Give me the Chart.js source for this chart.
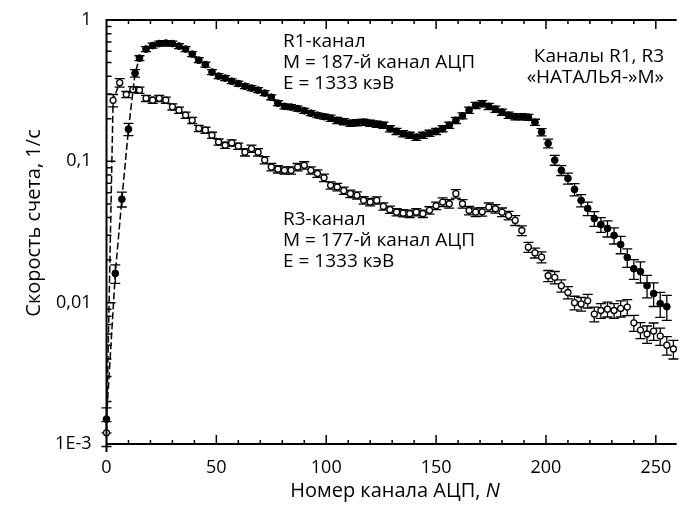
<!DOCTYPE html>
<html>
<head>
<meta charset="utf-8">
<script src="https://cdn.jsdelivr.net/npm/chart.js@4/dist/chart.umd.min.js"></script>
<style>
  body { margin: 0; background: #fff; }
  canvas { display: block; }
</style>
</head>
<body>
<canvas id="spectrum" width="682" height="507"></canvas>
<script>
// R1 channel (filled circles)
const r1Channels = [0, 4, 7, 10, 13, 15, 18, 21, 24, 27, 30, 33, 36, 39, 42, 45, 48, 51, 54, 57,
    60, 63, 66, 69, 72, 75, 78, 81, 84, 87, 90, 93, 96, 99, 102, 105, 108, 111, 114, 117,
    120, 123, 126, 129, 132, 135, 138, 141, 144, 147, 150, 153, 156, 159, 162, 165, 168, 171, 174, 177,
    180, 183, 186, 189, 192, 195, 198, 201, 204, 207, 210, 213, 216, 219, 222, 225, 228, 231, 234, 237,
    240, 243, 246, 249, 252, 255];
const r1Rate = [0.0015, 0.0161, 0.054, 0.169, 0.42, 0.537, 0.623, 0.659, 0.681, 0.687, 0.681, 0.654, 0.623, 0.574, 0.52, 0.483, 0.428, 0.401, 0.388, 0.369,
    0.355, 0.34, 0.33, 0.319, 0.304, 0.284, 0.258, 0.245, 0.242, 0.236, 0.228, 0.219, 0.212, 0.207, 0.202, 0.195, 0.191, 0.186, 0.188, 0.189,
    0.186, 0.183, 0.18, 0.17, 0.163, 0.157, 0.153, 0.148, 0.153, 0.158, 0.163, 0.17, 0.18, 0.195, 0.21, 0.23, 0.249, 0.256, 0.245, 0.234,
    0.223, 0.212, 0.207, 0.207, 0.205, 0.189, 0.161, 0.134, 0.102, 0.0863, 0.0757, 0.0633, 0.0529, 0.0464, 0.0394, 0.0357, 0.0335, 0.0299, 0.0258, 0.0209,
    0.0174, 0.0166, 0.0132, 0.0116, 0.00984, 0.00937];
// relative errors
const r1Err = [0.2, 0.15, 0.12, 0.1, 0.06, 0.04, 0.04, 0.04, 0.04, 0.04, 0.04, 0.04, 0.04, 0.04, 0.04, 0.04, 0.04, 0.04, 0.04, 0.04,
    0.04, 0.04, 0.04, 0.04, 0.04, 0.04, 0.04, 0.04, 0.04, 0.04, 0.04, 0.04, 0.04, 0.04, 0.05, 0.05, 0.05, 0.05, 0.05, 0.05,
    0.05, 0.05, 0.05, 0.05, 0.05, 0.05, 0.05, 0.05, 0.05, 0.05, 0.05, 0.05, 0.05, 0.05, 0.05, 0.05, 0.05, 0.05, 0.05, 0.05,
    0.05, 0.05, 0.05, 0.05, 0.05, 0.05, 0.06, 0.07, 0.08, 0.08, 0.09, 0.1, 0.1, 0.11, 0.12, 0.12, 0.13, 0.13, 0.14, 0.15,
    0.16, 0.17, 0.18, 0.19, 0.2, 0.2];

// R3 channel (open circles)
const r3Channels = [0, 3, 6, 9, 12, 15, 18, 21, 24, 27, 30, 33, 36, 39, 42, 45, 48, 51, 54, 57,
    60, 63, 66, 69, 72, 75, 78, 81, 84, 87, 90, 93, 96, 99, 102, 105, 108, 111, 114, 117,
    120, 123, 126, 129, 132, 135, 138, 141, 144, 147, 150, 153, 156, 159, 162, 165, 168, 171, 174, 177,
    180, 183, 186, 189, 192, 195, 198, 201, 204, 207, 210, 213, 216, 219, 222, 225, 228, 231, 234, 237,
    240, 243, 246, 249, 252, 255, 258];
const r3Rate = [0.0012, 0.27, 0.36, 0.297, 0.322, 0.319, 0.279, 0.271, 0.279, 0.271, 0.243, 0.23, 0.212, 0.195, 0.171, 0.166, 0.153, 0.137, 0.13, 0.135,
    0.128, 0.116, 0.123, 0.116, 0.102, 0.0911, 0.088, 0.0863, 0.0863, 0.0911, 0.0937, 0.0863, 0.082, 0.0765, 0.0676, 0.0658, 0.062, 0.059, 0.0574, 0.053,
    0.0515, 0.0529, 0.048, 0.0455, 0.0437, 0.043, 0.0426, 0.0437, 0.0426, 0.045, 0.0485, 0.0515, 0.0501, 0.059, 0.0501, 0.0449, 0.0437, 0.044, 0.0474, 0.0462,
    0.0437, 0.0414, 0.0382, 0.0324, 0.0247, 0.0225, 0.021, 0.0155, 0.0151, 0.0132, 0.0118, 0.01, 0.0098, 0.0103, 0.0083, 0.0088, 0.009, 0.0088, 0.0091, 0.0093,
    0.0072, 0.0064, 0.006, 0.0063, 0.0058, 0.005, 0.0047];
const r3Err = [0.2, 0.1, 0.07, 0.05, 0.05, 0.05, 0.05, 0.05, 0.05, 0.05, 0.05, 0.05, 0.05, 0.05, 0.05, 0.05, 0.05, 0.05, 0.05, 0.05,
    0.05, 0.06, 0.06, 0.06, 0.06, 0.06, 0.06, 0.06, 0.06, 0.06, 0.06, 0.06, 0.06, 0.06, 0.06, 0.06, 0.06, 0.06, 0.06, 0.06,
    0.06, 0.06, 0.06, 0.06, 0.06, 0.06, 0.06, 0.06, 0.06, 0.06, 0.06, 0.07, 0.07, 0.07, 0.07, 0.07, 0.07, 0.07, 0.07, 0.07,
    0.07, 0.07, 0.08, 0.08, 0.08, 0.08, 0.09, 0.09, 0.1, 0.1, 0.1, 0.11, 0.11, 0.11, 0.12, 0.12, 0.12, 0.12, 0.13, 0.13,
    0.13, 0.13, 0.14, 0.14, 0.14, 0.15, 0.15];

const xTickValues = [0, 50, 100, 150, 200, 250];
const xTickLabels = ['0', '50', '100', '150', '200', '250'];
const yTickValues = [0.001, 0.01, 0.1, 1];
const yTickLabels = ['1E-3', '0,01', '0,1', '1'];

const FONT = '"Open Sans", "Noto Sans", sans-serif';

// vertical error bars with caps
const errorBars = {
    id: 'errorBars',
    beforeDatasetsDraw(chart) {
        const { ctx, scales: { x, y } } = chart;
        ctx.save();
        ctx.strokeStyle = '#000';
        ctx.lineWidth = 1.3;
        chart.data.datasets.forEach(ds => {
            if (!ds.errors) return;
            ds.data.forEach((p, i) => {
                const e = ds.errors[i];
                const px = x.getPixelForValue(p.x);
                const top = y.getPixelForValue(p.y * (1 + e));
                const bot = y.getPixelForValue(p.y * (1 - e));
                ctx.beginPath();
                ctx.moveTo(px, top); ctx.lineTo(px, bot);
                ctx.moveTo(px - 5, top); ctx.lineTo(px + 5, top);
                ctx.moveTo(px - 5, bot); ctx.lineTo(px + 5, bot);
                ctx.stroke();
            });
        });
        ctx.restore();
    }
};

// axes, ticks, labels and annotations
const frame = {
    id: 'frame',
    afterDraw(chart) {
        const { ctx, chartArea: a, scales: { x, y } } = chart;
        ctx.save();
        ctx.strokeStyle = '#000';
        ctx.lineWidth = 2;
        ctx.beginPath();
        ctx.moveTo(a.left, a.top - 1); ctx.lineTo(a.left, a.bottom + 8);
        ctx.moveTo(a.left - 1, a.bottom); ctx.lineTo(a.right, a.bottom);
        ctx.moveTo(a.left - 1, a.top); ctx.lineTo(a.right, a.top);
        ctx.stroke();

        ctx.lineWidth = 1.5;
        ctx.beginPath();
        for (let n = 10; n <= x.max; n += 10) {
            const px = x.getPixelForValue(n);
            const len = n % 50 === 0 ? 9 : 4;
            ctx.moveTo(px, a.bottom); ctx.lineTo(px, a.bottom - len);
            ctx.moveTo(px, a.top); ctx.lineTo(px, a.top + len);
        }
        yTickValues.forEach((d, i) => {
            const py = y.getPixelForValue(d);
            ctx.moveTo(a.left, py); ctx.lineTo(a.left + 9, py);
            if (i === yTickValues.length - 1) return;
            for (let k = 2; k <= 9; k++) {
                const pm = y.getPixelForValue(d * k);
                ctx.moveTo(a.left, pm); ctx.lineTo(a.left + 5, pm);
            }
        });
        ctx.stroke();

        ctx.fillStyle = '#000';
        ctx.font = '18px ' + FONT;
        ctx.textAlign = 'center';
        ctx.textBaseline = 'middle';
        xTickValues.forEach((v, i) => {
            ctx.fillText(xTickLabels[i], x.getPixelForValue(v), 468);
        });
        ctx.textAlign = 'right';
        yTickValues.forEach((v, i) => {
            ctx.fillText(yTickLabels[i], a.left - 15, y.getPixelForValue(v));
        });

        // x title with italic N
        ctx.font = '20px ' + FONT;
        const t1 = 'Номер канала АЦП, ';
        const w1 = ctx.measureText(t1).width;
        ctx.font = 'italic 20px ' + FONT;
        const w2 = ctx.measureText('N').width;
        const x0 = 395 - (w1 + w2) / 2;
        ctx.textAlign = 'left';
        ctx.font = '20px ' + FONT;
        ctx.fillText(t1, x0, 491);
        ctx.font = 'italic 20px ' + FONT;
        ctx.fillText('N', x0 + w1, 491);

        // y title
        ctx.save();
        ctx.translate(34, 223);
        ctx.rotate(-Math.PI / 2);
        ctx.textAlign = 'center';
        ctx.font = '20px ' + FONT;
        ctx.fillText('Скорость счета, 1/с', 0, 0);
        ctx.restore();

        // annotations
        ctx.font = '19px ' + FONT;
        ctx.textAlign = 'left';
        ['R1-канал', 'M = 187-й канал АЦП', 'E = 1333 кэВ'].forEach((s, i) => ctx.fillText(s, 283, 42 + i * 21));
        ['R3-канал', 'M = 177-й канал АЦП', 'E = 1333 кэВ'].forEach((s, i) => ctx.fillText(s, 283, 220 + i * 21));
        ctx.textAlign = 'right';
        ctx.fillText('Каналы R1, R3', 664, 57);
        ctx.fillText('«НАТАЛЬЯ-»М»', 664, 78);
        ctx.restore();
    }
};

const toPoints = (xs, ys) => xs.map((n, i) => ({ x: n, y: ys[i] }));

new Chart(document.getElementById('spectrum'), {
    type: 'scatter',
    data: {
        datasets: [
            {
                label: 'R1',
                data: toPoints(r1Channels, r1Rate),
                errors: r1Err,
                showLine: true,
                borderWidth: 1.5,
                segment: {
                    borderColor: c => c.p1.parsed.x <= 15 ? '#000' : 'transparent',
                    borderDash: () => [7, 3]
                },
                pointRadius: 3.4,
                pointBackgroundColor: '#000',
                pointBorderColor: '#000',
                pointBorderWidth: 1,
                clip: false
            },
            {
                label: 'R3',
                data: toPoints(r3Channels, r3Rate),
                errors: r3Err,
                showLine: true,
                borderWidth: 1.5,
                segment: {
                    borderColor: c => c.p1.parsed.x <= 6 ? '#000' : 'transparent',
                    borderDash: () => [7, 3]
                },
                pointRadius: 3,
                pointBackgroundColor: '#fff',
                pointBorderColor: '#000',
                pointBorderWidth: 1.3,
                clip: false
            }
        ]
    },
    options: {
        responsive: false,
        animation: false,
        events: [],
        layout: { padding: { left: 106.5, top: 20, right: 0, bottom: 63 } },
        plugins: { legend: { display: false }, tooltip: { enabled: false } },
        scales: {
            x: { type: 'linear', min: 0, max: 259.5, display: false },
            y: { type: 'logarithmic', min: 0.001, max: 1, display: false }
        }
    },
    plugins: [errorBars, frame]
});
</script>
</body>
</html>
